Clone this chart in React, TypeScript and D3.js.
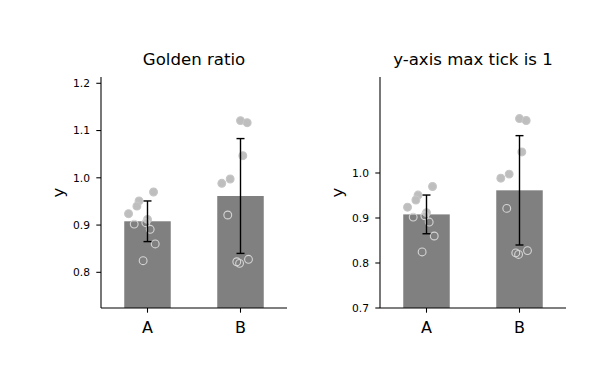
import React from 'react';
import * as d3 from 'd3';

const width = 616;
const height = 386;

const categories = ['A', 'B'];
const barMeans = [0.908, 0.9615];
const barErrors = [0.043, 0.1215];

// scatter points: category, x jitter (in category units), value
const pointCats = ['A', 'A', 'A', 'A', 'A', 'A', 'A', 'A', 'A', 'A', 'B', 'B', 'B', 'B', 'B', 'B', 'B', 'B', 'B'];
const pointJitter = [0.065, -0.091, -0.114, -0.204, 0.0, -0.018, -0.143, 0.029, 0.083, -0.047, 0.0, 0.072, 0.025, -0.111, -0.201, -0.137, -0.04, -0.01, 0.086];
const pointValues = [0.97, 0.951, 0.94, 0.924, 0.912, 0.905, 0.902, 0.891, 0.86, 0.8246, 1.121, 1.1166, 1.0468, 0.9975, 0.9884, 0.9213, 0.8224, 0.819, 0.8275];

const panels = [
  { title: 'Golden ratio', left: 101, domain: [0.7245, 1.2133], ticks: [0.8, 0.9, 1.0, 1.1, 1.2] },
  { title: 'y-axis max tick is 1', left: 380, domain: [0.7, 1.2133], ticks: [0.7, 0.8, 0.9, 1.0] },
];

const axW = 186;
const top = 77;
const bottom = 308;
const font = 'DejaVu Sans, sans-serif';

const Panel = ({ p }: { p: typeof panels[0] }) => {
  const x = d3.scaleLinear().domain([-0.5, 1.5]).range([p.left, p.left + axW]);
  const y = d3.scaleLinear().domain(p.domain).range([bottom, top]);
  const bw = x(0.25) - x(0);
  const fmt = d3.format('.1f');
  return (
    <g>
      <text x={p.left + axW / 2} y={65} textAnchor="middle" fontSize={16.6} fontFamily={font} fill="#000">
        {p.title}
      </text>
      {categories.map((c, i) => (
        <rect key={c} x={x(i) - bw} width={bw * 2} y={y(barMeans[i])} height={bottom - y(barMeans[i])} fill="#808080" />
      ))}
      {pointValues.map((v, k) => {
        const ci = categories.indexOf(pointCats[k]);
        const filled = v > barMeans[ci];
        return (
          <circle
            key={k}
            cx={x(ci + pointJitter[k])}
            cy={y(v)}
            r={3.9}
            fill={filled ? '#bebebe' : 'none'}
            stroke={filled ? '#c6c6c6' : '#d4d4d4'}
            strokeWidth={1.1}
          />
        );
      })}
      {categories.map((c, i) => {
        const y1 = y(barMeans[i] + barErrors[i]);
        const y2 = y(barMeans[i] - barErrors[i]);
        const cx = x(i);
        return (
          <g key={c} stroke="#000" strokeWidth={1.4}>
            <line x1={cx} x2={cx} y1={y1} y2={y2} />
            <line x1={cx - 4} x2={cx + 4} y1={y1} y2={y1} />
            <line x1={cx - 4} x2={cx + 4} y1={y2} y2={y2} />
          </g>
        );
      })}
      <line x1={p.left} x2={p.left} y1={top} y2={bottom} stroke="#000" strokeWidth={1.07} />
      <line x1={p.left} x2={p.left + axW} y1={bottom} y2={bottom} stroke="#000" strokeWidth={1.07} />
      {p.ticks.map(t => (
        <g key={t} transform={`translate(${p.left}, ${y(t)})`}>
          <line x1={-4.7} x2={0} stroke="#000" strokeWidth={1.07} />
          <text x={-11} dy="0.35em" textAnchor="end" fontSize={10.7} fontFamily={font} fill="#000">
            {fmt(t)}
          </text>
        </g>
      ))}
      {categories.map((c, i) => (
        <g key={c} transform={`translate(${x(i)}, ${bottom})`}>
          <line y1={0} y2={4.7} stroke="#000" strokeWidth={1.07} />
          <text y={25} textAnchor="middle" fontSize={16} fontFamily={font} fill="#000">
            {c}
          </text>
        </g>
      ))}
      <text
        transform={`translate(${p.left - 37}, ${(top + bottom) / 2}) rotate(-90)`}
        textAnchor="middle"
        fontSize={16.6}
        fontFamily={font}
        fill="#000"
      >
        y
      </text>
    </g>
  );
};

const App = () => (
  <svg width={width} height={height} style={{ position: 'absolute', left: 0, top: 0, background: '#fff' }}>
    {panels.map(p => (
      <Panel key={p.title} p={p} />
    ))}
  </svg>
);

export default App;
